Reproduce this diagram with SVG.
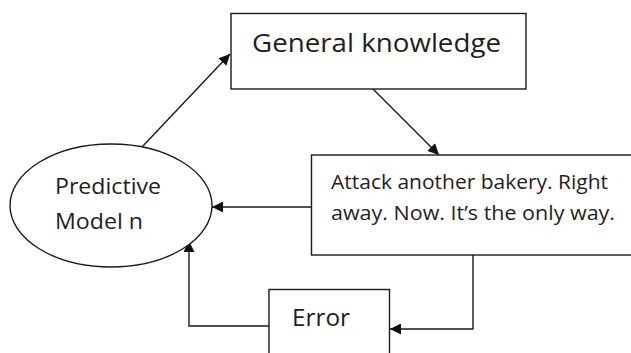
<svg xmlns="http://www.w3.org/2000/svg" width="631" height="353" viewBox="0 0 631 353">
  <style>
    .shape { fill: #ffffff; stroke: #1a1a1a; stroke-width: 1.4; }
    .link { fill: none; stroke: #1a1a1a; stroke-width: 1.4; }
    .label { font-family: "Open Sans", "Noto Sans", sans-serif; fill: #1e1e1e; }
  </style>
  <defs>
    <marker id="arrow" viewBox="0 0 10 10" refX="10" refY="5" markerWidth="12" markerHeight="11" markerUnits="userSpaceOnUse" orient="auto">
      <path d="M0,0 L10,5 L0,10 Z" fill="#111111"/>
    </marker>
  </defs>

  <rect width="631" height="353" fill="#ffffff"/>

  <g id="connectors">
    <line class="link" x1="142" y1="147" x2="230" y2="54" marker-end="url(#arrow)"/>
    <line class="link" x1="373" y1="89" x2="439" y2="155" marker-end="url(#arrow)"/>
    <line class="link" x1="311.5" y1="207" x2="212" y2="207" marker-end="url(#arrow)"/>
    <polyline class="link" points="473,255 473,329 390,329" marker-end="url(#arrow)"/>
    <polyline class="link" points="269,326 189,326 189,241" marker-end="url(#arrow)"/>
  </g>

  <g id="general-knowledge">
    <rect class="shape" x="231" y="13.5" width="295" height="75.5"/>
    <text class="label" x="252" y="52" font-size="26" textLength="249" lengthAdjust="spacingAndGlyphs">General knowledge</text>
  </g>

  <g id="attack">
    <rect class="shape" x="311.5" y="155" width="325" height="100"/>
    <text class="label" x="331" y="188.5" font-size="20" textLength="277" lengthAdjust="spacingAndGlyphs">Attack another bakery. Right</text>
    <text class="label" x="331" y="219.5" font-size="20" textLength="284" lengthAdjust="spacingAndGlyphs">away. Now. It’s the only way.</text>
  </g>

  <g id="predictive-model">
    <ellipse class="shape" cx="111" cy="205.5" rx="101" ry="61.5"/>
    <text class="label" x="55" y="194" font-size="22" textLength="106" lengthAdjust="spacingAndGlyphs">Predictive</text>
    <text class="label" x="55" y="228.5" font-size="22" textLength="88" lengthAdjust="spacingAndGlyphs">Model n</text>
  </g>

  <g id="error">
    <rect class="shape" x="269" y="289.5" width="120.5" height="70"/>
    <text class="label" x="292" y="326" font-size="23" textLength="58" lengthAdjust="spacingAndGlyphs">Error</text>
  </g>
</svg>
